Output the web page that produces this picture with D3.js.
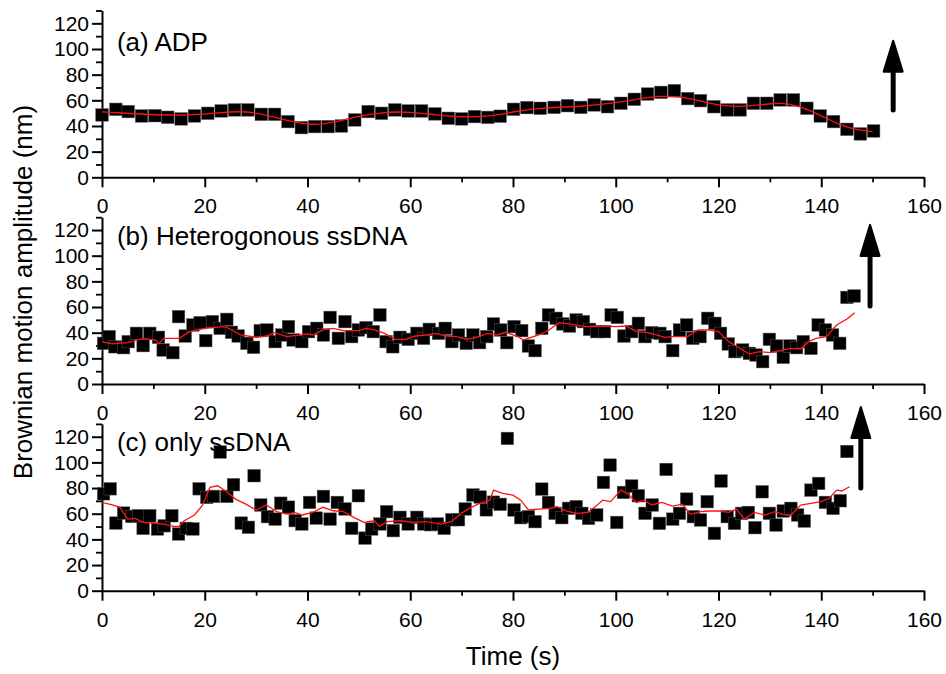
<!DOCTYPE html>
<html>
<head>
<meta charset="utf-8">
<script src="https://cdn.jsdelivr.net/npm/d3@7"></script>
<style>
  body { margin: 0; background: #fff; }
  text { font-family: "Liberation Sans", Arial, Helvetica, sans-serif; fill: #000; }
  .axis path, .axis line { stroke: #000; stroke-width: 2; }
  .axis text { font-size: 21px; }
  .minor line { stroke-width: 1.8; }
</style>
</head>
<body>
<div id="chart"></div>
<script>
// Plot constants
const WIDTH = 946;
const HEIGHT = 674;

// ---- data ----
const xTicks = [0, 20, 40, 60, 80, 100, 120, 140, 160];
const yTicks = [0, 20, 40, 60, 80, 100, 120];
const panelLabels = ["(a) ADP", "(b) Heterogonous ssDNA", "(c) only ssDNA"];

// (a) ADP
const timeA = [0, 2.7, 5.1, 7.7, 10.3, 12.8, 15.4, 18.0, 20.6, 23.2, 25.8, 28.4, 31.0, 33.6, 36.2,
  38.8, 41.4, 44.0, 46.6, 49.2, 51.8, 54.4, 57.0, 59.6, 62.2, 64.8, 67.4, 70.0, 72.5, 75.1, 77.5,
  80.1, 82.7, 85.3, 88.0, 90.6, 93.2, 95.8, 98.4, 101.0, 103.6, 106.2, 108.8, 111.4, 114.0,
  116.5, 119.1, 121.7, 124.2, 126.8, 129.4, 132.0, 134.6, 137.2, 139.8, 142.4, 145.0, 147.6, 150.2];
const ampA = [48.6, 53, 51.2, 47.8, 48, 46.8, 45.5, 47.8, 49.9, 51.7, 52.5, 52.5, 49.1, 49.1, 43.4,
  38.7, 39.5, 39.5, 40, 44.7, 51.2, 49.9, 52.5, 51.7, 51.7, 49.4, 46, 45.5, 47.3, 46.7, 47.6,
  53, 54.3, 53.8, 54.5, 55.8, 54.5, 56.4, 55, 57.7, 60.8, 64.9, 66.2, 67.5, 61.3,
  59.7, 55, 52.5, 52.5, 57.7, 57.7, 60.3, 60.3, 53.8, 47.8, 43.4, 37.4, 33.8, 36.1];
const fitTimeA = [0, 4.7, 15, 22, 27, 30.7, 37, 41, 46, 50, 55, 60, 65, 70, 75.5, 80, 86.6, 93,
  99.5, 104, 108.6, 112.5, 116.4, 120.3, 124.2, 129.3, 132, 135.8, 139.7, 143.6, 146.9, 150];
const fitAmpA = [51, 49.9, 47.8, 49.9, 51.7, 49.9, 43.4, 40.3, 43.4, 47.8, 51, 51, 48.6, 46.8,
  47.3, 51.2, 54.5, 55, 57.7, 60.8, 63.6, 62.8, 59.7, 55.6, 55, 56.9, 58.2, 55.6, 48.6, 40.8, 36.9, 35.6];

// (b) Heterogonous ssDNA
const timeB = [0.3, 1.4, 2.5, 4.2, 5.1, 6.7, 8.0, 9.3, 11.0, 11.9, 13.8, 14.9, 16.2, 17.7, 19.1,
  20.2, 21.5, 23.0, 24.3, 25.2, 26.5, 28.2, 29.5, 30.8, 32.1, 33.7, 35.0, 36.3, 37.2, 38.9, 40.2,
  41.8, 43.1, 44.4, 46.0, 47.3, 48.6, 49.9, 51.4, 52.8, 54.1, 55.3, 56.6, 58.0, 59.6, 61.3, 62.6,
  63.7, 65.5, 66.8, 68.1, 69.4, 70.9, 72.2, 73.5, 74.9, 76.2, 77.6, 78.8, 80.2, 81.7, 83.0, 84.3,
  85.6, 86.9, 88.4, 89.7, 91.0, 92.3, 93.7, 94.9, 96.3, 97.8, 99.1, 100.3, 101.6, 103.1, 104.4,
  105.7, 107.0, 108.6, 109.6, 111.1, 112.4, 113.8, 115.0, 116.4, 117.9, 119.3, 120.4, 121.9,
  123.2, 124.7, 126.0, 127.3, 128.6, 129.9, 131.3, 132.6, 133.9, 135.2, 136.5, 138.0, 139.4,
  140.8, 142.2, 143.6, 145.0, 146.4];
const ampB = [31.7, 36.9, 29, 28.3, 33, 39.5, 29.9, 39.5, 36.4, 26.5, 24.4, 52.5, 37.4, 46, 47.8,
  33.8, 48.6, 43.4, 50.4, 40.3, 37.4, 31.7, 28.6, 41.6, 42.1, 33, 38.2, 44.7, 34.3, 33, 40.8,
  43.4, 38.2, 51.9, 35.6, 48.6, 36.9, 42.1, 43.9, 40.8, 53.8, 33, 29, 36.4, 34.8, 39.5, 35.6,
  42.6, 39.5, 43.4, 33, 38.2, 31.7, 38.2, 32.2, 36.9, 46.8, 42.1, 32.2, 44.7, 41.6, 29.6, 26,
  43.4, 53.8, 51.2, 46.8, 45.2, 49.9, 48.6, 42.6, 40.8, 40.8, 53.8, 51.9, 37.4, 40.8, 47.3,
  36.9, 40, 39.5, 36.9, 26, 42.1, 46, 35.6, 36.9, 51.2, 47.3, 39.5, 31.2,
  25.2, 26.5, 23.9, 22.6, 17.4, 34.8, 29.6, 20.8, 29.6, 28.3, 33, 27.8, 46,
  42.1, 38.2, 31.7, 67.5, 68.6];
const fitTimeB = [0, 2, 5, 8, 10.5, 11, 12, 15, 17, 20, 22, 24, 27, 30, 32, 33.5, 36, 40, 41, 43,
  45, 47, 50, 51.5, 53, 55, 57, 59, 61, 63, 65, 67, 69, 71, 73, 75, 77, 78.5, 81, 82, 85, 87, 89,
  91, 94, 96, 98, 100, 102, 104, 106, 108, 109.5, 111, 114, 116, 118, 120, 122, 124, 126, 128,
  130, 132, 134, 136, 137.5, 139, 141, 143, 145, 146.5];
const fitAmpB = [33, 31.2, 32.2, 35.6, 34.3, 31.2, 35.6, 35.6, 40.8, 43.4, 44.2, 44.7, 38.2,
  36.4, 37.4, 40, 36.9, 39, 38.2, 42.1, 43.4, 41.6, 41.6, 43.4, 42.1, 39.5, 34.8, 34.8, 37.4,
  38.2, 39.5, 37.4, 36.9, 34.8, 36.4, 39.5, 38.2, 40.3, 36.9, 34.3, 38.2, 42.1, 47.8, 46.8, 44.7,
  44.7, 45.2, 44.7, 45.2, 40.8, 40.3, 38.2, 36.4, 36.9, 36.9, 42.1, 42.1, 40.8, 33, 28.3, 23.4,
  25.2, 24.4, 26, 27.8, 27.3, 33, 35.6, 36.9, 46, 50.6, 55.6];

// (c) only ssDNA
const timeC = [0.3, 1.6, 2.7, 4.2, 5.8, 7.1, 8.0, 9.3, 10.8, 12.1, 13.6, 14.9, 16.4, 17.7, 18.9,
  20.4, 21.7, 23.0, 24.3, 25.6, 27.1, 28.5, 29.6, 30.9, 32.2, 33.7, 34.8, 36.3, 37.6, 38.9, 40.4,
  41.7, 43.1, 44.4, 45.8, 47.3, 48.6, 49.9, 51.2, 52.5, 54.1, 55.4, 56.7, 58.0, 59.6, 61.3, 62.6,
  64.0, 65.3, 66.6, 68.1, 69.4, 70.7, 72.2, 73.6, 74.8, 76.2, 77.5, 78.9, 80.2, 81.5, 83.0, 84.3,
  85.6, 86.9, 88.2, 89.5, 90.8, 92.3, 93.4, 94.7, 96.3, 97.6, 98.9, 100.2, 101.5, 103.1, 104.4,
  105.7, 107.1, 108.5, 109.8, 111.1, 112.4, 113.8, 115.1, 116.5, 117.8, 119.2, 120.5, 121.7,
  123.1, 124.5, 125.8, 127.1, 128.5, 129.9, 131.2, 132.6, 134.1, 135.4, 136.7, 138.0, 139.5,
  140.8, 142.3, 143.7, 145.0];
const ampC = [75.5, 79.4, 52.7, 60.5, 57.9, 58.4, 48.6, 58.4, 48.1, 50.6, 58.4, 44.2, 48.6, 48.1,
  79.4, 72.7, 73.5, 108.1, 73.5, 82.6, 52.7, 49.4, 89.6, 66.8, 57.7, 55.8, 68.2, 65.1, 54.6, 52,
  68.8, 56.6, 73.5, 55.8, 68.8, 63.7, 48.6, 74, 41, 48.1, 52, 61.6, 46.8, 57.2, 52, 57.2, 52,
  51.4, 52, 48.6, 55.3, 55.3, 63.7, 74.6, 73, 63, 69, 67.3, 118.7, 62.9, 56.9, 57.7, 53.8,
  79.2, 68.8, 60.3, 56.9, 64.2, 65.5, 60.3, 56.4, 59, 84.4, 97.9, 53.2, 76.6, 81.6, 74,
  60.3, 66.8, 52.5, 94.5, 55.8, 60.3, 71.4, 57.7, 55.1, 69.4, 44.7, 85.5, 57.7,
  52.5, 60.3, 61, 49.1, 77.1, 60.3, 51.2, 62.1, 64.2, 59, 54.3, 78.4, 83.6,
  68.8, 64.2, 70.1, 108.5];
const fitTimeC = [0, 2, 3.5, 5, 6.5, 8, 10, 12, 14, 15, 16, 18, 19.5, 21, 22.5, 24, 26, 28, 30,
  32, 34, 36, 37.5, 39, 41, 43, 45, 47, 49, 51, 53, 54, 55.5, 58, 61, 63, 66, 68, 70, 71.5, 73.5,
  75.5, 76.2, 78, 80, 81.5, 83, 85, 87.5, 88.5, 90.5, 92.5, 94.5, 96, 97.5, 99, 101, 102.5, 104,
  105.5, 107, 109, 111, 113, 114.5, 116.5, 118, 120, 122, 123.5, 125, 127, 129, 131, 132.5, 134,
  136, 138, 140, 141.5, 143, 144, 145.5];
const fitAmpC = [68.8, 66.8, 65, 55.8, 56.4, 53.2, 52.7, 51.9, 50.1, 50.1, 54.5, 59, 66.2, 80.5,
  81.8, 77.9, 71.4, 67.5, 62.9, 66.8, 61.6, 59.7, 61, 59, 61, 65, 62.3, 61.6, 57.1, 53.2, 54.5,
  50.1, 53.8, 54.5, 53.2, 53.8, 51.9, 53.8, 60.5, 64.2, 68, 70.6, 78.4, 75.8, 74.5, 70.6, 62.9,
  63.6, 64.2, 65.5, 62.1, 60.3, 61, 65.5, 70.6, 69.4, 78.4, 75, 68.8, 70.6, 66.8, 68.8, 66,
  67.5, 59.5, 61.6, 62.1, 62.1, 61, 63.6, 55.8, 61, 59, 61.6, 59.5, 58.4, 66.8, 68, 69.4, 71.9,
  78.4, 77.7, 81];

// arrows: time, tip value, tail value
const arrowTime = [154, 149.5, 147.7];
const arrowTip = [106.5, 124, 143.2];
const arrowTail = [52.5, 60.8, 80];

// ---- layout ----
const X0 = 102, X1 = 924;
const PANEL_H = 166.8;
const panelTops = [10.5, 217.2, 423.9];
const labelY = [98.7, 108, 109];

const panels = [
  { t: timeA, v: ampA, ft: fitTimeA, fv: fitAmpA, curve: d3.curveBasis },
  { t: timeB, v: ampB, ft: fitTimeB, fv: fitAmpB, curve: d3.curveLinear },
  { t: timeC, v: ampC, ft: fitTimeC, fv: fitAmpC, curve: d3.curveLinear },
];

const svg = d3.select("#chart").append("svg")
  .attr("width", WIDTH)
  .attr("height", HEIGHT);

svg.append("rect").attr("width", WIDTH).attr("height", HEIGHT).attr("fill", "#fff");

const x = d3.scaleLinear().domain([0, 160]).range([X0, X1]);
const SQ = 12.5;

panels.forEach((p, i) => {
  const top = panelTops[i];
  const y = d3.scaleLinear().domain([0, 130]).range([top + PANEL_H, top]);
  const g = svg.append("g");

  // minor ticks
  g.append("g").attr("class", "axis minor")
    .attr("transform", `translate(0,${y(0)})`)
    .call(d3.axisBottom(x).tickValues(d3.range(10, 160, 20)).tickSize(5).tickSizeOuter(0).tickFormat(""))
    .select(".domain").remove();
  g.append("g").attr("class", "axis minor")
    .attr("transform", `translate(${X0},0)`)
    .call(d3.axisLeft(y).tickValues(d3.range(10, 131, 20)).tickSize(6).tickSizeOuter(0).tickFormat(""))
    .select(".domain").remove();

  // major axes
  g.append("g").attr("class", "axis")
    .attr("transform", `translate(0,${y(0)})`)
    .call(d3.axisBottom(x).tickValues(xTicks).tickSize(10).tickSizeOuter(0).tickPadding(11));
  g.append("g").attr("class", "axis")
    .attr("transform", `translate(${X0},0)`)
    .call(d3.axisLeft(y).tickValues(yTicks).tickSize(10).tickSizeOuter(0).tickPadding(3));

  // data squares
  g.selectAll("rect.pt")
    .data(p.t.map((t, k) => [t, p.v[k]]))
    .enter().append("rect")
    .attr("class", "pt")
    .attr("x", d => x(d[0]) - SQ / 2)
    .attr("y", d => y(d[1]) - SQ / 2)
    .attr("width", SQ)
    .attr("height", SQ)
    .attr("fill", "#000")
    .attr("stroke", "#555")
    .attr("stroke-width", 0.5);

  // red smoothing line
  const line = d3.line().x(d => x(d[0])).y(d => y(d[1])).curve(p.curve);
  g.append("path")
    .datum(p.ft.map((t, k) => [t, p.fv[k]]))
    .attr("d", line)
    .attr("fill", "none")
    .attr("stroke", "#ff1010")
    .attr("stroke-width", 1.3);

  // panel label
  g.append("text")
    .attr("x", x(2.9))
    .attr("y", y(labelY[i]))
    .attr("font-size", "26px")
    .text(panelLabels[i]);

  // arrow
  const ax = x(arrowTime[i]);
  const tipY = y(arrowTip[i]);
  const headLen = 31, headHalf = 9.5;
  g.append("line")
    .attr("x1", ax).attr("x2", ax)
    .attr("y1", tipY + headLen - 2).attr("y2", y(arrowTail[i]))
    .attr("stroke", "#000").attr("stroke-width", 5).attr("stroke-linecap", "round");
  g.append("path")
    .attr("d", `M${ax},${tipY} L${ax + headHalf},${tipY + headLen} L${ax - headHalf},${tipY + headLen} Z`)
    .attr("fill", "#000").attr("stroke", "#000").attr("stroke-width", 2).attr("stroke-linejoin", "round");
});

// axis titles
svg.append("text")
  .attr("transform", `translate(32,${292}) rotate(-90)`)
  .attr("text-anchor", "middle")
  .attr("font-size", "26px")
  .text("Brownian motion amplitude (nm)");

svg.append("text")
  .attr("x", (X0 + X1) / 2)
  .attr("y", 665)
  .attr("text-anchor", "middle")
  .attr("font-size", "26px")
  .text("Time (s)");
</script>
</body>
</html>
